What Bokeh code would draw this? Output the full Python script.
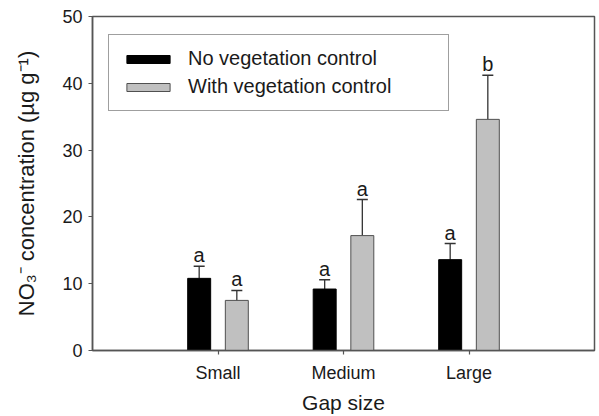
from bokeh.plotting import figure
from bokeh.models import Range1d, FixedTicker, Whisker, ColumnDataSource, Legend, LegendItem, TeeHead
from bokeh.core.properties import value
from bokeh.embed import file_html
from bokeh.resources import INLINE

categories = ["Small", "Medium", "Large"]
no_veg = [10.8, 9.2, 13.6]
no_veg_upper = [12.6, 10.6, 16.0]
with_veg = [7.5, 17.2, 34.6]
with_veg_upper = [9.0, 22.6, 41.2]
letters_no = ["a", "a", "a"]
letters_with = ["a", "a", "b"]
y_ticks = [0, 10, 20, 30, 40, 50]

FONT = "Liberation Sans"
AX = "#555555"
TXT = "#1a1a1a"

xc = [i + 1 for i in range(len(categories))]
x_no = [x - 0.15 for x in xc]
x_with = [x + 0.15 for x in xc]

src_no = ColumnDataSource(dict(x=x_no, top=no_veg, upper=no_veg_upper, lab=letters_no))
src_with = ColumnDataSource(dict(x=x_with, top=with_veg, upper=with_veg_upper, lab=letters_with))

p = figure(width=599, height=416, output_backend="svg", toolbar_location=None,
           x_range=Range1d(0, 4.0), y_range=Range1d(0, 50),
           min_border_left=92, min_border_right=5, min_border_top=16, min_border_bottom=66)
p.background_fill_color = "white"
p.border_fill_color = "white"
p.outline_line_color = AX
p.outline_line_width = 1.5
p.xgrid.visible = False
p.ygrid.visible = False

r1 = p.vbar(x="x", top="top", width=0.183, bottom=0, source=src_no,
            fill_color="black", line_color="black", line_width=1)
r2 = p.vbar(x="x", top="top", width=0.183, bottom=0, source=src_with,
            fill_color="#c0c0c0", line_color="#505050", line_width=1)

for src in (src_no, src_with):
    w = Whisker(base="x", lower="top", upper="upper", source=src, dimension="height",
                line_color="#333333", line_width=1.3,
                upper_head=TeeHead(size=11, line_color="#333333", line_width=1.5),
                lower_head=None)
    p.add_layout(w)
    p.text(x="x", y="upper", text="lab", source=src, text_align="center",
           text_baseline="alphabetic", y_offset=-11, text_font=value(FONT),
           text_font_size="20px", text_color=TXT)

# axes
p.xaxis.ticker = FixedTicker(ticks=xc)
p.xaxis.major_label_overrides = {x: c for x, c in zip(xc, categories)}
p.yaxis.ticker = FixedTicker(ticks=y_ticks)
for ax in (p.xaxis[0], p.yaxis[0]):
    ax.axis_line_color = AX
    ax.axis_line_width = 1.5
    ax.major_tick_line_color = AX
    ax.major_tick_line_width = 1.2
    ax.major_tick_in = 0
    ax.major_tick_out = 4
    ax.minor_tick_line_color = None
    ax.major_label_text_font = FONT
    ax.major_label_text_font_size = "18px"
    ax.major_label_text_color = TXT
    ax.axis_label_text_font = FONT
    ax.axis_label_text_font_size = "21px"
    ax.axis_label_text_font_style = "normal"
    ax.axis_label_text_color = TXT

p.xaxis.axis_label = "Gap size"
p.xaxis.major_label_standoff = 8
p.xaxis.axis_label_standoff = 5
p.yaxis.axis_label = "NO\u2083\u207b concentration (\u00b5g g\u207b\u00b9)"
p.yaxis.axis_label_text_font_size = "22px"
p.yaxis.major_label_standoff = 6
p.yaxis.axis_label_standoff = 20

legend = Legend(items=[LegendItem(label="No vegetation control", renderers=[r1]),
                       LegendItem(label="With vegetation control", renderers=[r2])],
                location=(16, 239))
legend.label_text_font = FONT
legend.label_text_font_size = "20px"
legend.label_text_color = TXT
legend.glyph_width = 54
legend.glyph_height = 10
legend.label_height = 20
legend.label_width = 248
legend.label_standoff = 13
legend.spacing = 5
legend.padding = 12
legend.margin = 0
legend.border_line_color = "#404040"
legend.border_line_width = 1.5
legend.background_fill_alpha = 1
p.add_layout(legend)

open("out.html", "w").write(file_html(p, INLINE))
